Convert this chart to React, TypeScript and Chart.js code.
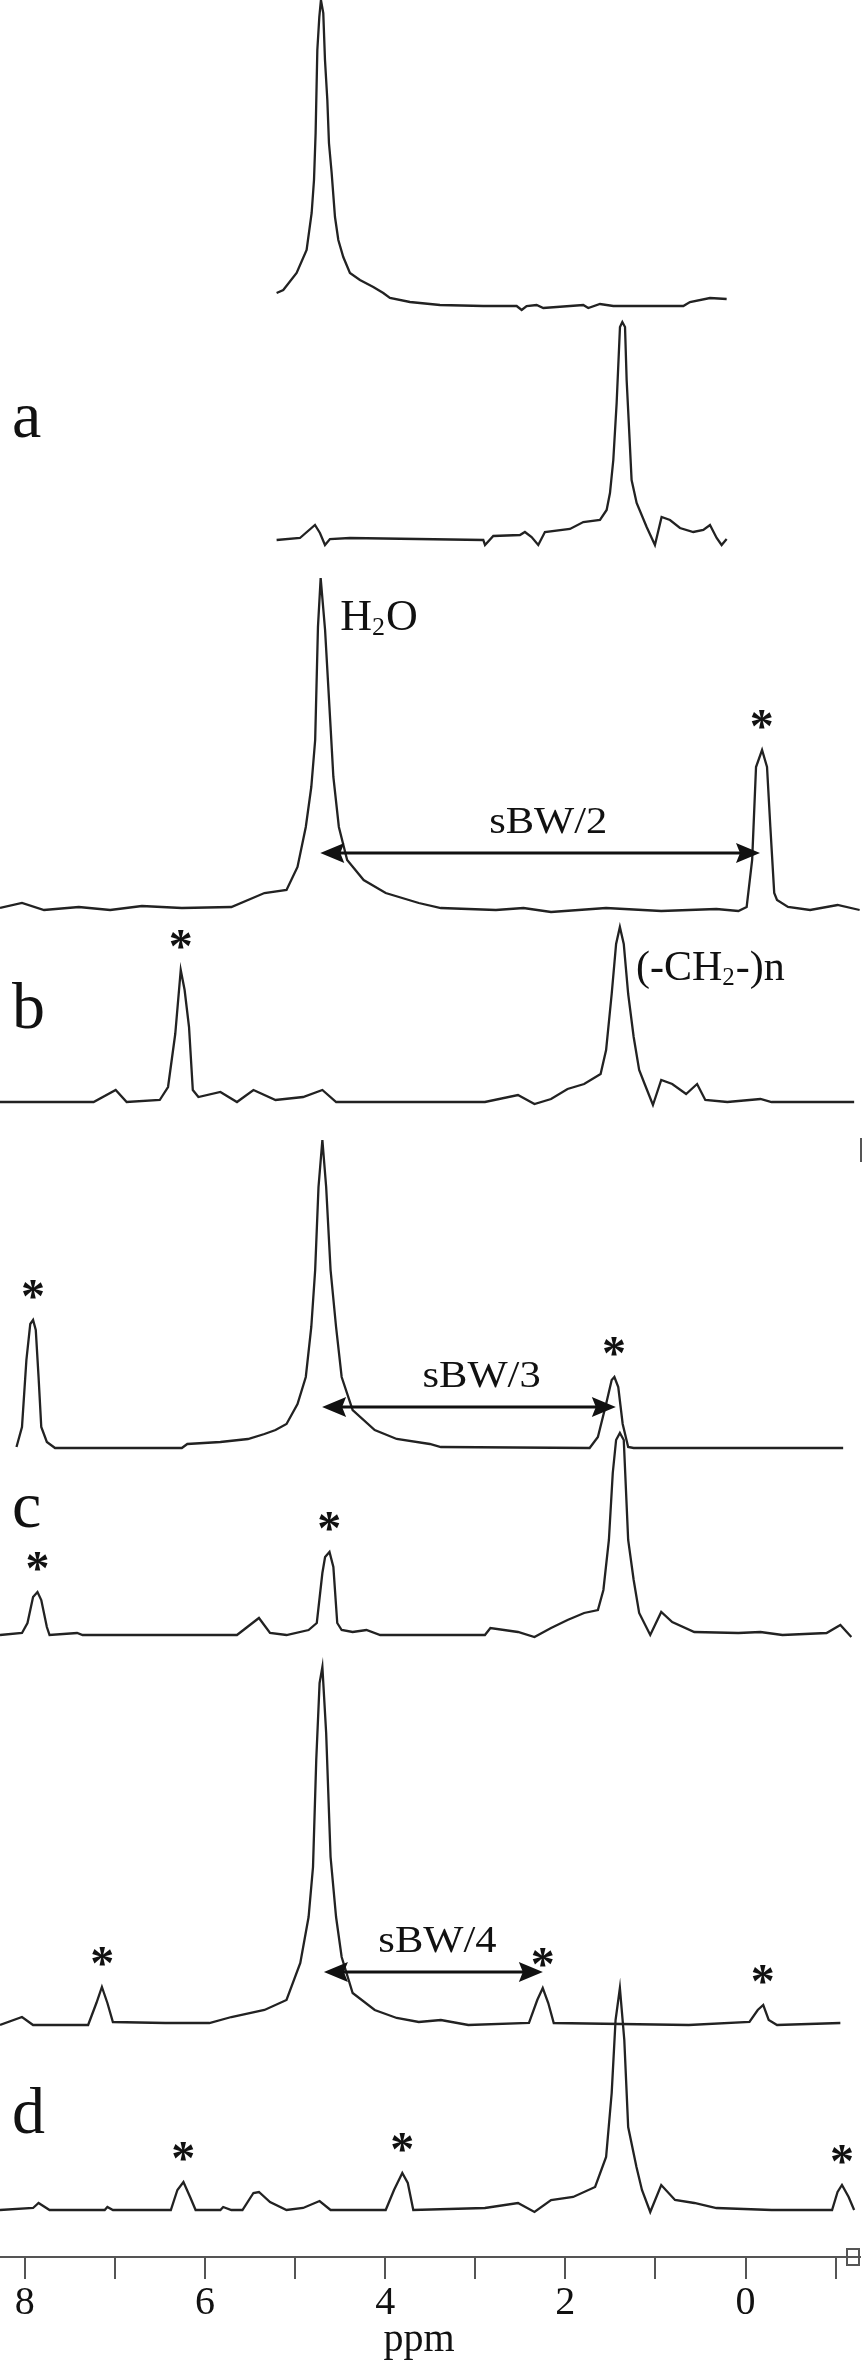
import React, { useEffect, useRef } from "react";
import { Chart, registerables } from "chart.js";

Chart.register(...registerables);

const SERIF = "'Liberation Serif', 'Times New Roman', serif";

// ---------- spectrum a : upper trace (water) ----------
const shiftA1 = [5.205, 5.131, 4.983, 4.872, 4.816, 4.79, 4.772, 4.753, 4.731, 4.713, 4.687, 4.668, 4.642, 4.624, 4.594, 4.557, 4.52, 4.465, 4.391, 4.28, 4.132, 4.021, 3.947, 3.725, 3.392, 2.911, 2.541, 2.485, 2.43, 2.319, 2.245, 1.801, 1.746, 1.616, 1.468, 0.691, 0.617, 0.395, 0.21];
const intA1 = [13, 16, 33, 56, 93, 126, 173, 256, 289, 306, 293, 246, 206, 163, 133, 89, 66, 49, 33, 26, 19, 13, 8, 4, 1, 0, 0, -4, 0, 1, -2, 1, -2, 2, 0, 0, 4, 8, 7];

// ---------- spectrum a : lower trace (lipid) ----------
const shiftA2 = [5.205, 4.946, 4.779, 4.724, 4.668, 4.613, 4.391, 2.911, 2.892, 2.8, 2.504, 2.449, 2.375, 2.301, 2.227, 1.949, 1.801, 1.616, 1.542, 1.505, 1.468, 1.431, 1.394, 1.368, 1.338, 1.32, 1.294, 1.265, 1.209, 1.098, 1.006, 0.932, 0.839, 0.728, 0.58, 0.469, 0.395, 0.321, 0.266, 0.21];
const intA2 = [0, 2, 15, 7, -5, 1, 2, 0, -5, 4, 5, 8, 3, -5, 8, 11, 18, 20, 30, 47, 80, 137, 213, 218, 213, 160, 113, 60, 37, 13, -5, 23, 20, 12, 8, 10, 15, 2, -5, 1];

// ---------- spectrum b : upper trace ----------
const shiftB1 = [8.275, 8.031, 7.786, 7.4, 7.052, 6.7, 6.257, 5.707, 5.34, 5.095, 4.973, 4.881, 4.82, 4.777, 4.746, 4.716, 4.667, 4.606, 4.575, 4.514, 4.422, 4.239, 3.994, 3.627, 3.382, 2.771, 2.465, 2.159, 1.548, 0.936, 0.324, 0.08, -0.012, -0.073, -0.116, -0.183, -0.238, -0.275, -0.318, -0.349, -0.471, -0.716, -1.021, -1.266];
const intB1 = [2, 7, 0, 3, 0, 4, 2, 3, 17, 20, 43, 83, 123, 170, 283, 332, 280, 183, 133, 83, 50, 30, 17, 7, 2, 0, 2, -2, 2, -1, 1, -1, 3, 50, 143, 160, 143, 83, 17, 10, 3, 0, 5, 0];

// ---------- spectrum b : lower trace ----------
const shiftB2 = [8.275, 7.236, 6.991, 6.869, 6.502, 6.41, 6.33, 6.288, 6.269, 6.226, 6.177, 6.135, 6.073, 5.829, 5.645, 5.462, 5.217, 4.911, 4.697, 4.544, 2.893, 2.526, 2.343, 2.159, 1.976, 1.792, 1.609, 1.548, 1.486, 1.437, 1.395, 1.352, 1.303, 1.242, 1.181, 1.12, 1.028, 0.936, 0.814, 0.66, 0.538, 0.447, 0.202, -0.165, -0.288, -1.205];
const intB2 = [0, 0, 12, 0, 2, 15, 68, 112, 132, 112, 75, 12, 5, 10, 0, 12, 2, 5, 12, 0, 0, 7, -2, 3, 13, 18, 28, 52, 108, 158, 175, 158, 108, 65, 32, 18, -3, 22, 18, 8, 18, 2, 0, 3, 0, 0];

// ---------- spectrum c : upper trace ----------
const shiftC1 = [8.092, 8.031, 7.982, 7.939, 7.908, 7.878, 7.847, 7.817, 7.755, 7.664, 6.257, 6.196, 5.829, 5.523, 5.34, 5.217, 5.095, 4.973, 4.881, 4.82, 4.777, 4.74, 4.697, 4.655, 4.606, 4.545, 4.483, 4.361, 4.116, 3.872, 3.505, 3.382, 1.731, 1.639, 1.548, 1.486, 1.456, 1.413, 1.364, 1.303, 1.242, -1.083];
const intC1 = [1, 21, 88, 124, 128, 118, 71, 21, 6, 0, 0, 4, 6, 9, 14, 18, 24, 44, 71, 121, 178, 261, 308, 261, 178, 121, 71, 38, 18, 9, 4, 1, 0, 11, 44, 68, 71, 61, 24, 1, 0, 0];

// ---------- spectrum c : lower trace ----------
const shiftC2 = [8.275, 8.031, 7.97, 7.908, 7.859, 7.817, 7.755, 7.725, 7.419, 7.358, 5.645, 5.401, 5.278, 5.095, 4.85, 4.759, 4.697, 4.667, 4.618, 4.575, 4.532, 4.483, 4.361, 4.208, 4.055, 2.893, 2.832, 2.526, 2.343, 2.159, 1.976, 1.792, 1.639, 1.578, 1.517, 1.474, 1.437, 1.395, 1.352, 1.303, 1.242, 1.181, 1.058, 0.936, 0.814, 0.569, 0.08, -0.165, -0.41, -0.899, -1.052, -1.174];
const intC2 = [0, 2, 12, 38, 43, 35, 8, 0, 2, 0, 0, 17, 2, 0, 5, 12, 62, 78, 83, 68, 12, 5, 3, 5, 0, 0, 7, 3, -2, 7, 15, 22, 25, 45, 95, 162, 195, 202, 195, 95, 55, 22, 0, 23, 13, 3, 2, 3, 0, 2, 10, -2];

// ---------- spectrum d : upper trace ----------
const shiftD1 = [8.275, 8.031, 7.908, 7.297, 7.205, 7.144, 7.083, 7.022, 6.44, 5.951, 5.707, 5.34, 5.095, 4.942, 4.85, 4.801, 4.765, 4.728, 4.697, 4.655, 4.606, 4.545, 4.483, 4.361, 4.116, 3.872, 3.627, 3.382, 3.077, 2.404, 2.312, 2.251, 2.19, 2.129, 0.63, -0.043, -0.135, -0.196, -0.257, -0.349, -1.052];
const intD1 = [0, 8, 0, 0, 22, 38, 22, 3, 2, 2, 8, 15, 25, 62, 108, 158, 265, 342, 358, 292, 168, 108, 68, 32, 15, 7, 3, 5, 0, 2, 25, 37, 22, 2, 0, 3, 15, 20, 5, 0, 2];

// ---------- spectrum d : lower trace ----------
const shiftD2 = [8.275, 7.908, 7.847, 7.725, 7.113, 7.083, 7.022, 6.379, 6.306, 6.239, 6.165, 6.104, 5.829, 5.798, 5.707, 5.584, 5.462, 5.401, 5.278, 5.095, 4.911, 4.728, 4.606, 3.994, 3.902, 3.81, 3.749, 3.688, 2.893, 2.526, 2.343, 2.159, 1.914, 1.67, 1.548, 1.486, 1.443, 1.395, 1.346, 1.303, 1.211, 1.15, 1.058, 0.936, 0.783, 0.569, 0.324, -0.288, -0.96, -1.021, -1.07, -1.144, -1.205];
const intD2 = [0, 2, 7, 0, 0, 3, 0, 0, 20, 28, 13, 0, 0, 3, 0, 0, 17, 18, 8, 0, 2, 9, 0, 0, 20, 37, 27, 0, 2, 7, -2, 10, 13, 23, 53, 117, 190, 222, 170, 83, 43, 20, -2, 25, 10, 7, 2, 0, 0, 18, 25, 13, 0];

const SHIFTS = [shiftA1, shiftA2, shiftB1, shiftB2, shiftC1, shiftC2, shiftD1, shiftD2];
const INTENSITIES = [intA1, intA2, intB1, intB2, intC1, intC2, intD1, intD2];

// vertical stacking of the eight traces (baseline level of each trace)
const STACK_BASE = [1951, 1717, 1347, 1155, 809, 622, 232, 47];
const Y_TOP = 2257;

// x axis
const X_MIN = -1.27;
const X_MAX = 8.275;
const LABELED_TICKS = [8, 6, 4, 2, 0];
const AXIS_TITLE = "ppm";

// panel letters
const panelLetters = ["a", "b", "c", "d"];
const letterLevels = [1820, 1229, 730, 124];

// asterisks: trace index and chemical shift of the marked peak
const asteriskTrace = [2, 3, 4, 4, 5, 5, 6, 6, 6, 7, 7, 7];
const asteriskShift = [-0.18, 6.27, 7.91, 1.46, 7.86, 4.62, 7.14, 2.25, -0.19, 6.24, 3.81, -1.07];

// double arrows
const arrowTrace = [2, 4, 6];
const arrowFrom = [4.72, 4.7, 4.68];
const arrowTo = [-0.16, 1.44, 2.25];
const arrowLevel = [57, 41, 53];
const arrowText = ["sBW/2", "sBW/3", "sBW/4"];
const arrowTextShift = [2.19, 2.93, 3.42];

type Part = [string, boolean];
function drawFormula(ctx: CanvasRenderingContext2D, parts: Part[], x0: number, base: number, size: number) {
  let cx = x0;
  ctx.textAlign = "left";
  ctx.textBaseline = "alphabetic";
  for (const [t, sub] of parts) {
    ctx.font = `${sub ? Math.round(size * 0.6) : size}px ${SERIF}`;
    ctx.fillText(t, cx, base + (sub ? size * 0.12 : 0));
    cx += ctx.measureText(t).width + (sub ? 1 : 0);
  }
}

const annotate = {
  id: "annotate",
  afterDatasetsDraw(chart: any) {
    const { ctx, chartArea } = chart;
    const x = chart.scales.x;
    const y = chart.scales.y;
    ctx.save();
    ctx.fillStyle = "#111";
    ctx.strokeStyle = "#111";

    // panel letters
    ctx.font = `66px ${SERIF}`;
    ctx.textAlign = "left";
    ctx.textBaseline = "alphabetic";
    panelLetters.forEach((t, i) => {
      ctx.fillText(t, chartArea.left + 12, y.getPixelForValue(letterLevels[i]));
    });

    // asterisks above marked peaks
    ctx.font = `bold 48px ${SERIF}`;
    ctx.textAlign = "center";
    asteriskShift.forEach((s, i) => {
      const k = asteriskTrace[i];
      const sh = SHIFTS[k];
      const it = INTENSITIES[k];
      let top = -Infinity;
      sh.forEach((v, j) => {
        if (Math.abs(v - s) < 0.12) top = Math.max(top, it[j]);
      });
      const cy = y.getPixelForValue(STACK_BASE[k] + top) - 31;
      ctx.fillText("*", x.getPixelForValue(s), cy + 23);
    });

    // double arrows with labels
    arrowTrace.forEach((k, i) => {
      const x1 = x.getPixelForValue(arrowFrom[i]);
      const x2 = x.getPixelForValue(arrowTo[i]);
      const py = y.getPixelForValue(STACK_BASE[k] + arrowLevel[i]);
      ctx.lineWidth = 3;
      ctx.beginPath();
      ctx.moveTo(x1 + 18, py);
      ctx.lineTo(x2 - 18, py);
      ctx.stroke();
      const head = (tip: number, dir: number) => {
        ctx.beginPath();
        ctx.moveTo(tip, py);
        ctx.lineTo(tip - dir * 24, py - 10);
        ctx.lineTo(tip - dir * 20, py);
        ctx.lineTo(tip - dir * 24, py + 10);
        ctx.closePath();
        ctx.fill();
      };
      head(x1, -1);
      head(x2, 1);
      ctx.save();
      ctx.font = `38px ${SERIF}`;
      ctx.textAlign = "center";
      ctx.textBaseline = "alphabetic";
      const tx = x.getPixelForValue(arrowTextShift[i]);
      ctx.translate(tx, py - 20);
      ctx.scale(1.12, 1);
      ctx.fillText(arrowText[i], 0, 0);
      ctx.restore();
    });

    // compound labels
    drawFormula(ctx, [["H", false], ["2", true], ["O", false]], x.getPixelForValue(4.5), y.getPixelForValue(STACK_BASE[2] + 280), 44);
    drawFormula(ctx, [["(-CH", false], ["2", true], ["-)n", false]], x.getPixelForValue(1.216), y.getPixelForValue(STACK_BASE[3] + 122), 42);

    // axis title
    ctx.font = `40px ${SERIF}`;
    ctx.textAlign = "center";
    ctx.textBaseline = "alphabetic";
    ctx.fillText(AXIS_TITLE, chartArea.left + 419, chart.height - 12);

    // small box at the end of the axis
    ctx.strokeStyle = "#555";
    ctx.lineWidth = 2;
    ctx.strokeRect(chartArea.left + 847, chartArea.bottom - 8, 12, 16);

    // frame mark
    ctx.beginPath();
    ctx.moveTo(chartArea.left + 861, y.getPixelForValue(1119));
    ctx.lineTo(chartArea.left + 861, y.getPixelForValue(1095));
    ctx.stroke();
    ctx.restore();
  },
};

export default function App() {
  const ref = useRef<HTMLCanvasElement | null>(null);
  useEffect(() => {
    if (!ref.current) return;
    const datasets = SHIFTS.map((sh, k) => ({
      label: `trace ${k + 1}`,
      data: sh.map((s, j) => ({ x: s, y: STACK_BASE[k] + INTENSITIES[k][j] })),
      borderColor: "#222",
      borderWidth: 2.3,
      pointRadius: 0,
      tension: 0,
      fill: false,
      clip: false as any,
    }));
    const chart = new Chart(ref.current, {
      type: "line",
      data: { datasets },
      options: {
        animation: false,
        responsive: false,
        devicePixelRatio: 1,
        events: [],
        layout: { padding: { left: 0, right: 4, top: 0, bottom: 0 } },
        plugins: { legend: { display: false }, tooltip: { enabled: false } },
        scales: {
          x: {
            type: "linear",
            reverse: true,
            min: X_MIN,
            max: X_MAX,
            afterFit: (s: any) => {
              s.height = 106;
            },
            grid: { drawOnChartArea: false, drawTicks: true, tickLength: 22, color: "#555", lineWidth: 2 },
            border: { display: true, color: "#555", width: 2 },
            ticks: {
              stepSize: 1,
              includeBounds: false,
              autoSkip: false,
              maxRotation: 0,
              padding: 0,
              color: "#111",
              font: { family: SERIF, size: 40 },
              callback: (v: any) => (LABELED_TICKS.includes(Number(v)) ? String(v) : ""),
            },
          },
          y: { type: "linear", min: 0, max: Y_TOP, display: false },
        },
      },
      plugins: [annotate],
    } as any);
    return () => chart.destroy();
  }, []);
  return (
    <div style={{ position: "absolute", left: 0, top: 0, width: 864, height: 2363, background: "#fff" }}>
      <canvas ref={ref} width={864} height={2363} style={{ display: "block", width: 864, height: 2363 }} />
    </div>
  );
}
